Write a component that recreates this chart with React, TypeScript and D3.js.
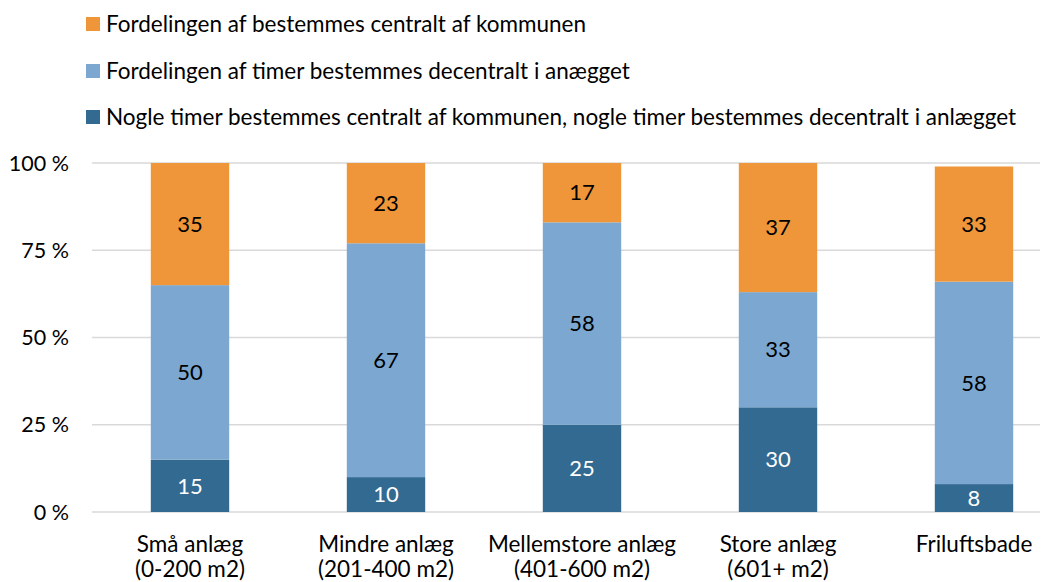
import React from "react";
import * as d3 from "d3";

// Categories (two-line labels)
const categories: string[][] = [
  ["Små anlæg", "(0-200 m2)"],
  ["Mindre anlæg", "(201-400 m2)"],
  ["Mellemstore anlæg", "(401-600 m2)"],
  ["Store anlæg", "(601+ m2)"],
  ["Friluftsbade", ""],
];

// Series values, bottom to top of stack
const mixedValues = [15, 10, 25, 30, 8];
const decentralValues = [50, 67, 58, 33, 58];
const centralValues = [35, 23, 17, 37, 33];

const seriesNames = [
  "Nogle timer bestemmes centralt af kommunen, nogle timer bestemmes decentralt i anlægget",
  "Fordelingen af timer bestemmes decentralt i anægget",
  "Fordelingen af bestemmes centralt af kommunen",
];
const seriesColors = ["#336A92", "#7BA7D0", "#EE9639"];
const labelColors = ["#ffffff", "#000000", "#000000"];

const yTicks = [0, 25, 50, 75, 100];

const W = 1060;
const H = 582;
const FONT = "Lato, 'Open Sans', sans-serif";

export default function App() {
  // five equal bands across the plot area, bars take ~40% of each band
  const x = d3
    .scaleBand<number>()
    .domain(categories.map((_, i) => i))
    .range([92, 1072])
    .paddingInner(0.6)
    .paddingOuter(0.3);
  const barW = x.bandwidth();
  const cx = (i: number) => (x(i) as number) + barW / 2;

  const y = d3.scaleLinear().domain([0, 100]).range([512, 163]);

  const series = [mixedValues, decentralValues, centralValues];
  const stack = d3.stack<number>().keys(["0", "1", "2"]).value((i, k) => series[+k][i]);
  const stacked = stack(categories.map((_, i) => i));

  // legend is drawn top-down: central, decentral, mixed
  const legendOrder = [2, 1, 0];
  const legendY = [24, 71, 117];

  return (
    <svg width={W} height={H} style={{ position: "absolute", left: 0, top: 0, background: "#fff" }} fontFamily={FONT}>
      {legendOrder.map((s, j) => (
        <g key={s}>
          <rect x={86} y={legendY[j] - 7} width={14} height={14} fill={seriesColors[s]} />
          <text x={106} y={legendY[j]} dy="0.35em" fontSize={22.5} fill="#000">
            {seriesNames[s]}
          </text>
        </g>
      ))}

      {yTicks.map((t) => (
        <g key={t}>
          <line x1={92} x2={1040} y1={y(t)} y2={y(t)} stroke="#D9D9D9" strokeWidth={1.5} />
          <text x={69} y={y(t)} dy="0.35em" textAnchor="end" fontSize={21.5} fill="#000">
            {t} %
          </text>
        </g>
      ))}

      {stacked.map((layer, s) => (
        <g key={s}>
          {layer.map((d, i) => {
            const y0 = y(d[0]);
            const y1 = y(d[1]);
            return (
              <g key={i}>
                <rect x={cx(i) - barW / 2} y={y1} width={barW} height={y0 - y1} fill={seriesColors[s]} />
                <text
                  x={cx(i)}
                  y={(y0 + y1) / 2}
                  dy="0.35em"
                  textAnchor="middle"
                  fontSize={22}
                  fill={labelColors[s]}
                >
                  {series[s][i]}
                </text>
              </g>
            );
          })}
        </g>
      ))}

      {categories.map((lines, i) => (
        <text key={i} x={cx(i)} textAnchor="middle" fontSize={22.5} fill="#000">
          {lines.map((l, k) => (
            <tspan key={k} x={cx(i)} y={552 + k * 25}>
              {l}
            </tspan>
          ))}
        </text>
      ))}
    </svg>
  );
}
